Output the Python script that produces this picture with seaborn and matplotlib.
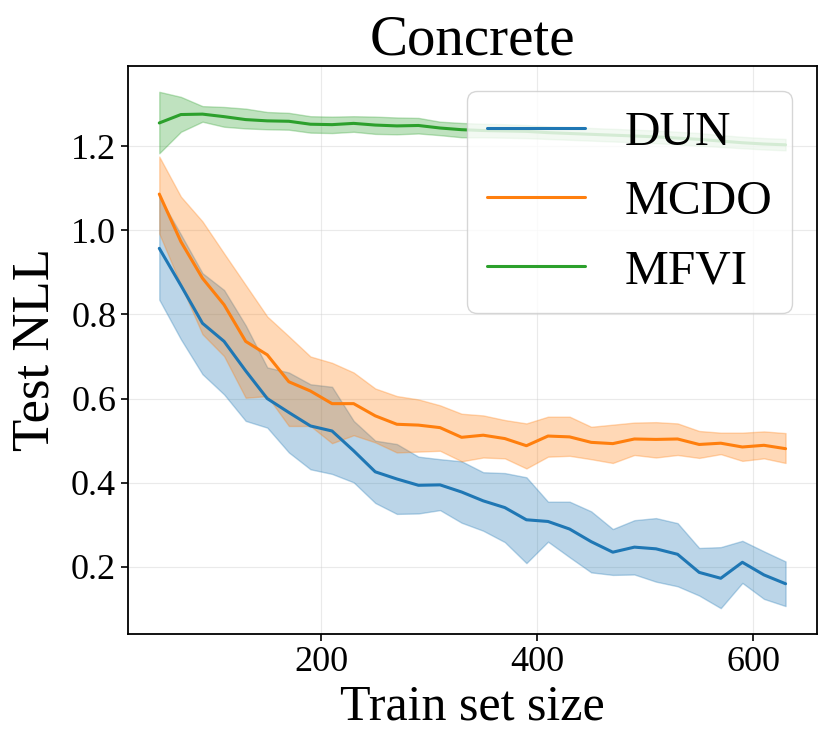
import numpy as np
import pandas as pd
import matplotlib
matplotlib.use("Agg")
import matplotlib.pyplot as plt
import seaborn as sns

# train set sizes
train_size = list(range(50, 631, 20))

# DUN
dun_mean = [0.957, 0.869, 0.779, 0.736, 0.666, 0.600, 0.567, 0.535, 0.523, 0.476,
            0.426, 0.409, 0.394, 0.395, 0.378, 0.357, 0.341, 0.312, 0.308, 0.290,
            0.260, 0.235, 0.247, 0.243, 0.230, 0.187, 0.173, 0.211, 0.181, 0.160]
dun_upper = [1.080, 0.990, 0.898, 0.858, 0.774, 0.674, 0.662, 0.634, 0.628, 0.547,
             0.500, 0.492, 0.462, 0.456, 0.451, 0.425, 0.423, 0.413, 0.355, 0.355,
             0.332, 0.290, 0.311, 0.316, 0.304, 0.245, 0.247, 0.262, 0.237, 0.213]
dun_lower = [0.835, 0.741, 0.658, 0.610, 0.547, 0.531, 0.472, 0.432, 0.421, 0.401,
             0.352, 0.326, 0.327, 0.335, 0.305, 0.286, 0.259, 0.209, 0.260, 0.223,
             0.187, 0.181, 0.182, 0.165, 0.154, 0.132, 0.102, 0.162, 0.124, 0.107]

# MCDO
mcdo_mean = [1.086, 0.973, 0.886, 0.823, 0.736, 0.704, 0.640, 0.618, 0.588, 0.588,
             0.559, 0.539, 0.537, 0.531, 0.508, 0.513, 0.505, 0.488, 0.511, 0.509,
             0.496, 0.493, 0.504, 0.503, 0.504, 0.491, 0.494, 0.485, 0.489, 0.481]
mcdo_upper = [1.175, 1.080, 1.021, 0.945, 0.870, 0.795, 0.748, 0.700, 0.685, 0.662,
              0.624, 0.606, 0.598, 0.584, 0.564, 0.560, 0.549, 0.541, 0.557, 0.557,
              0.533, 0.538, 0.543, 0.544, 0.541, 0.523, 0.519, 0.519, 0.522, 0.518]
mcdo_lower = [0.992, 0.870, 0.753, 0.701, 0.602, 0.606, 0.535, 0.535, 0.494, 0.513,
              0.496, 0.472, 0.474, 0.476, 0.451, 0.460, 0.458, 0.434, 0.462, 0.464,
              0.456, 0.447, 0.466, 0.460, 0.466, 0.459, 0.468, 0.452, 0.458, 0.447]

# MFVI
mfvi_mean = [1.255, 1.275, 1.276, 1.270, 1.263, 1.260, 1.259, 1.252, 1.251, 1.254,
             1.250, 1.248, 1.249, 1.243, 1.239, 1.237, 1.236, 1.235, 1.232, 1.230,
             1.228, 1.226, 1.224, 1.222, 1.219, 1.216, 1.212, 1.208, 1.205, 1.203]
mfvi_upper = [1.329, 1.317, 1.295, 1.293, 1.289, 1.281, 1.279, 1.271, 1.270, 1.271,
              1.270, 1.268, 1.267, 1.258, 1.255, 1.253, 1.252, 1.250, 1.247, 1.245,
              1.243, 1.241, 1.239, 1.237, 1.234, 1.231, 1.226, 1.222, 1.219, 1.217]
mfvi_lower = [1.183, 1.234, 1.258, 1.246, 1.242, 1.240, 1.239, 1.232, 1.231, 1.234,
              1.229, 1.228, 1.230, 1.226, 1.221, 1.221, 1.220, 1.219, 1.217, 1.215,
              1.213, 1.211, 1.209, 1.207, 1.204, 1.201, 1.198, 1.195, 1.192, 1.190]

methods = ["DUN", "MCDO", "MFVI"]
colors = ["#1f77b4", "#ff7f0e", "#2ca02c"]

df = pd.DataFrame({
    "size": train_size * 3,
    "nll": dun_mean + mcdo_mean + mfvi_mean,
    "method": ["DUN"] * 30 + ["MCDO"] * 30 + ["MFVI"] * 30,
})

sns.set_style("ticks")
plt.rcParams["font.family"] = ["Liberation Serif", "DejaVu Serif"]
plt.rcParams["text.color"] = "black"
plt.rcParams["axes.labelcolor"] = "black"
plt.rcParams["xtick.color"] = "black"
plt.rcParams["ytick.color"] = "black"

fig = plt.figure(figsize=(8.31, 7.5), dpi=100)
ax = fig.add_axes([0.154, 0.1547, 0.829, 0.7573])

sns.lineplot(data=df, x="size", y="nll", hue="method", palette=colors,
             linewidth=2.2, ax=ax)

bands = [(dun_lower, dun_upper), (mcdo_lower, mcdo_upper), (mfvi_lower, mfvi_upper)]
for (lo, hi), c in zip(bands, colors):
    ax.fill_between(train_size, lo, hi, color=c, alpha=0.3)

ax.grid(True, alpha=0.4)
ax.set_xticks([200, 400, 600])
ax.set_yticks([0.2, 0.4, 0.6, 0.8, 1.0, 1.2])
ax.tick_params(labelsize=26, width=1.2, length=5)
for s in ax.spines.values():
    s.set_linewidth(1.3)
    s.set_color("black")

ax.set_title("Concrete", fontsize=41, pad=8)
ax.set_xlabel("Train set size", fontsize=36, labelpad=4)
ax.set_ylabel("Test NLL", fontsize=38, labelpad=8)

leg = ax.legend(loc="upper right", fontsize=35.5, framealpha=0.8,
                borderaxespad=0.5)

fig.savefig("out.png", dpi=100)
